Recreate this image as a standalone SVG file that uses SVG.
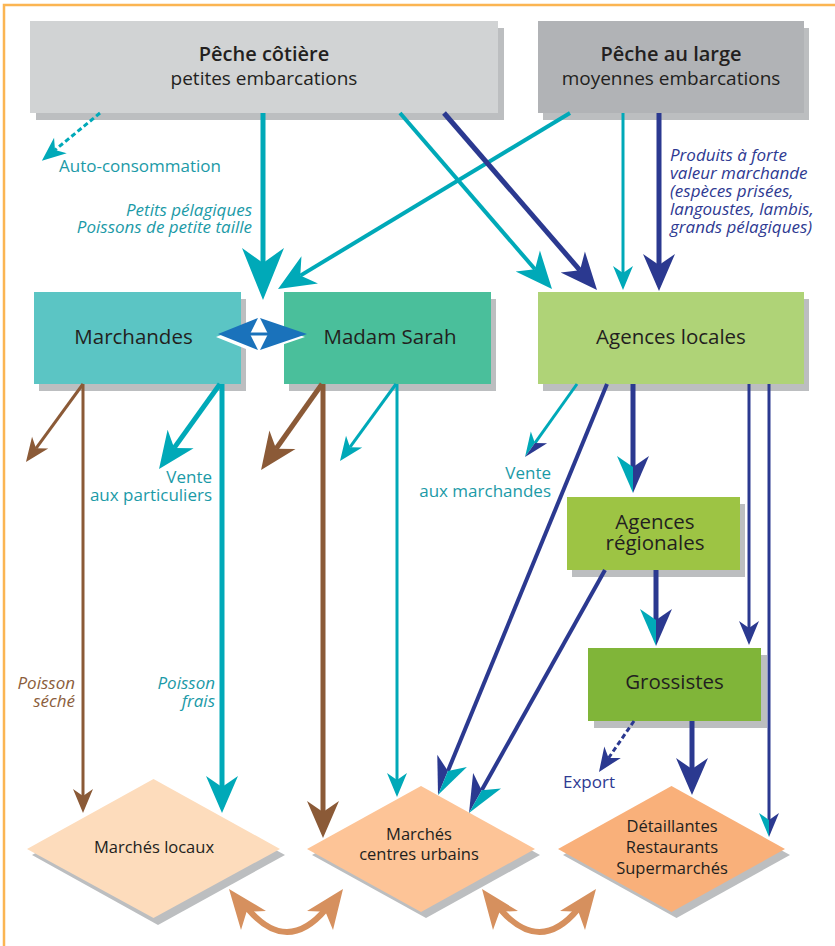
<svg xmlns="http://www.w3.org/2000/svg" width="835" height="946" viewBox="0 0 835 946">
<style>
.t{font-family:"Open Sans","Liberation Sans",sans-serif;fill:#231f20}
.h{font-size:20px;font-weight:600;text-anchor:middle}
.s{font-size:19px;text-anchor:middle}
.n{font-size:20.5px;text-anchor:middle}
.d{font-size:16.5px;text-anchor:middle}
.l{font-family:"Open Sans","Liberation Sans",sans-serif;font-size:17px}
.it{font-style:italic}
.end{text-anchor:end}
.tc{fill:#1b9aa7}.bc{fill:#2e3a92}.brc{fill:#8b5e3c}
.sh{fill:#bcbec0}
.ln{fill:none}
.teal{stroke:#00a9b8}.blue{stroke:#2b3990}.brown{stroke:#8b5a37}
</style>
<defs>
<marker id="tB" markerUnits="userSpaceOnUse" orient="auto" viewBox="-20 -25 60 50" markerWidth="60" markerHeight="50" refX="0" refY="0"><path d="M37,0 L-15,21 L0,0 L-15,-21 Z" fill="#00a9b8"/></marker>
<marker id="tL" markerUnits="userSpaceOnUse" orient="auto" viewBox="-20 -25 60 50" markerWidth="60" markerHeight="50" refX="0" refY="0"><path d="M26,0 L-11,16 L0,0 L-11,-16 Z" fill="#00a9b8"/></marker>
<marker id="bL" markerUnits="userSpaceOnUse" orient="auto" viewBox="-20 -25 60 50" markerWidth="60" markerHeight="50" refX="0" refY="0"><path d="M26,0 L-11,16 L0,0 L-11,-16 Z" fill="#2b3990"/></marker>
<marker id="brL" markerUnits="userSpaceOnUse" orient="auto" viewBox="-20 -25 60 50" markerWidth="60" markerHeight="50" refX="0" refY="0"><path d="M26,0 L-11,16 L0,0 L-11,-16 Z" fill="#8b5a37"/></marker>
<marker id="tS" markerUnits="userSpaceOnUse" orient="auto" viewBox="-20 -25 60 50" markerWidth="60" markerHeight="50" refX="0" refY="0"><path d="M17,0 L-7,10 L0,0 L-7,-10 Z" fill="#00a9b8"/></marker>
<marker id="bS" markerUnits="userSpaceOnUse" orient="auto" viewBox="-20 -25 60 50" markerWidth="60" markerHeight="50" refX="0" refY="0"><path d="M17,0 L-7,10 L0,0 L-7,-10 Z" fill="#2b3990"/></marker>
<marker id="brS" markerUnits="userSpaceOnUse" orient="auto" viewBox="-20 -25 60 50" markerWidth="60" markerHeight="50" refX="0" refY="0"><path d="M17,0 L-7,10 L0,0 L-7,-10 Z" fill="#8b5a37"/></marker>
<marker id="tbL" markerUnits="userSpaceOnUse" orient="auto" viewBox="-20 -25 60 50" markerWidth="60" markerHeight="50" refX="0" refY="0"><path d="M26,0 L-11,16 L0,0 Z" fill="#00a9b8"/><path d="M26,0 L-11,-16 L0,0 Z" fill="#2b3990"/></marker>
<marker id="btL" markerUnits="userSpaceOnUse" orient="auto" viewBox="-20 -25 60 50" markerWidth="60" markerHeight="50" refX="0" refY="0"><path d="M26,0 L-11,16 L0,0 Z" fill="#2b3990"/><path d="M26,0 L-11,-16 L0,0 Z" fill="#00a9b8"/></marker>
<marker id="tbS" markerUnits="userSpaceOnUse" orient="auto" viewBox="-20 -25 60 50" markerWidth="60" markerHeight="50" refX="0" refY="0"><path d="M17,0 L-7,10 L0,0 Z" fill="#00a9b8"/><path d="M17,0 L-7,-10 L0,0 Z" fill="#2b3990"/></marker>
</defs>
<rect width="835" height="946" fill="#ffffff"/>
<path d="M4,946 V5 H835" fill="none" stroke="#fbb552" stroke-width="2.5"/>

<g id="peche-cotiere">
<rect class="sh" x="36" y="28" width="468" height="92"/>
<rect x="30" y="21" width="468" height="92" fill="#d1d3d4"/>
<text class="t h" x="264" y="61">Pêche côtière</text>
<text class="t s" x="264" y="85">petites embarcations</text>
</g>
<g id="peche-au-large">
<rect class="sh" x="543" y="28" width="266" height="92"/>
<rect x="538" y="21" width="266" height="92" fill="#b1b3b6"/>
<text class="t h" x="671" y="61">Pêche au large</text>
<text class="t s" x="671" y="85">moyennes embarcations</text>
</g>
<g id="marchandes">
<rect class="sh" x="39" y="299" width="207" height="92"/>
<rect x="34" y="292" width="207" height="92" fill="#5bc5c4"/>
<text class="t n" x="133.5" y="344">Marchandes</text>
</g>
<g id="madam-sarah">
<rect class="sh" x="289" y="299" width="207" height="92"/>
<rect x="284" y="292" width="207" height="92" fill="#4abf9b"/>
<text class="t n" x="390" y="344">Madam Sarah</text>
</g>
<g id="agences-locales">
<rect class="sh" x="543" y="299" width="266" height="92"/>
<rect x="538" y="292" width="266" height="92" fill="#afd377"/>
<text class="t n" x="671" y="344">Agences locales</text>
</g>
<g id="agences-regionales">
<rect class="sh" x="572" y="504" width="173" height="73"/>
<rect x="567" y="497" width="173" height="73" fill="#9dc444"/>
<text class="t n" x="655" y="529">Agences</text>
<text class="t n" x="655" y="550">régionales</text>
</g>
<g id="grossistes">
<rect class="sh" x="594" y="655" width="173" height="73"/>
<rect x="588" y="648" width="173" height="73" fill="#80b539"/>
<text class="t n" x="674.5" y="689">Grossistes</text>
</g>
<g id="marches-locaux">
<path class="sh" d="M158,785 L285,855 L158,925 L32,855 Z"/>
<path d="M153.5,779 L280,849 L153.5,918 L27,849 Z" fill="#fddcbc"/>
<text class="t d" x="154" y="853">Marchés locaux</text>
</g>
<g id="marches-centres-urbains">
<path class="sh" d="M426,792 L540,855 L426,918 L312,855 Z"/>
<path d="M421,786 L535,849 L421,912 L307,849 Z" fill="#fdc497"/>
<text class="t d" x="419" y="840">Marchés</text>
<text class="t d" x="419" y="860">centres urbains</text>
</g>
<g id="detaillantes">
<path class="sh" d="M676.5,792 L790,855 L676.5,918 L563,855 Z"/>
<path d="M671.5,786 L785,849 L671.5,912 L558,849 Z" fill="#f9b07a"/>
<text class="t d" x="672" y="832">Détaillantes</text>
<text class="t d" x="672" y="853">Restaurants</text>
<text class="t d" x="672" y="874">Supermarchés</text>
</g>

<g id="connectors">
<path class="ln teal" stroke-width="3" stroke-dasharray="5 3" d="M100,113 L55,150" marker-end="url(#tS)"/>
<path class="ln teal" stroke-width="5" d="M263,113 L263,263" marker-end="url(#tB)"/>
<path class="ln teal" stroke-width="4" d="M570,113 L300.3,275.6" marker-end="url(#tL)"/>
<path class="ln teal" stroke-width="4" d="M400,113 L535,269.3" marker-end="url(#tL)"/>
<path class="ln blue" stroke-width="5" d="M444,113 L580,270.3" marker-end="url(#bL)"/>
<path class="ln teal" stroke-width="3" d="M623,113 L623,273" marker-end="url(#tS)"/>
<path class="ln blue" stroke-width="5" d="M659,113 L659,265" marker-end="url(#bL)"/>

<path class="ln brown" stroke-width="3" d="M83,384 L36,448.3" marker-end="url(#brS)"/>
<path class="ln brown" stroke-width="3" d="M83,384 L83,796" marker-end="url(#brS)"/>
<path class="ln teal" stroke-width="5" d="M220,384 L174.2,447.9" marker-end="url(#tL)"/>
<path class="ln teal" stroke-width="5" d="M222,384 L222,787" marker-end="url(#tL)"/>
<path class="ln brown" stroke-width="5" d="M322,384 L276.1,448.8" marker-end="url(#brL)"/>
<path class="ln brown" stroke-width="5" d="M323,384 L323,812" marker-end="url(#brL)"/>
<path class="ln teal" stroke-width="3" d="M396,384 L350,447.2" marker-end="url(#tS)"/>
<path class="ln teal" stroke-width="3" d="M397,384 L397,780" marker-end="url(#tS)"/>

<path class="ln teal" stroke-width="3" d="M577,384 L534.9,443.1" marker-end="url(#tbS)"/>
<path class="ln blue" stroke-width="4" d="M607,384 L447.9,771" marker-end="url(#btL)"/>
<path class="ln blue" stroke-width="4" d="M605,570 L481.7,790.3" marker-end="url(#btL)"/>
<path class="ln blue" stroke-width="5" d="M633,384 L633,467" marker-end="url(#tbL)"/>
<path class="ln blue" stroke-width="5" d="M656,570 L656,620" marker-end="url(#tbL)"/>
<path class="ln blue" stroke-width="3" d="M749,384 L749,628" marker-end="url(#bS)"/>
<path class="ln blue" stroke-width="3" d="M769,384 L769,820" marker-end="url(#tbS)"/>
<path class="ln blue" stroke-width="3" stroke-dasharray="5 3" d="M634,721 L608.6,758" marker-end="url(#bS)"/>
<path class="ln blue" stroke-width="5" d="M692,721 L692,769" marker-end="url(#bL)"/>

<g id="double-blue">
<g fill="#ffffff" transform="translate(-2,3)">
<path d="M218,334 L258,318 L250,334 L258,350 Z"/>
<path d="M307,334 L260,318 L268,334 L260,350 Z"/>
</g>
<path d="M250,334 H268" stroke="#1a72bb" stroke-width="3"/>
<path d="M218,334 L258,318 L250,334 L258,350 Z" fill="#1a72bb"/>
<path d="M307,334 L260,318 L268,334 L260,350 Z" fill="#1a72bb"/>
</g>

<g fill="#d6905e">
<path d="M248,909 Q287,955 326,909" fill="none" stroke="#d6905e" stroke-width="6"/>
<path d="M229,889 L241,930 L246.6,911.7 L266,911 Z"/>
<path d="M343,889 L333,930 L325.4,911.7 L307,911 Z"/>
<path d="M500,909 Q540,955 578,909" fill="none" stroke="#d6905e" stroke-width="6"/>
<path d="M482,889 L493,930 L499.6,911.7 L518,911 Z"/>
<path d="M596,889 L585,930 L578.4,911.7 L560,911 Z"/>
</g>
</g>

<g id="labels">
<text class="l tc" x="59" y="172">Auto-consommation</text>
<text class="l tc it end" x="252" y="216">Petits pélagiques</text>
<text class="l tc it end" x="252" y="233">Poissons de petite taille</text>
<text class="l bc it" x="670" y="161">Produits à forte</text>
<text class="l bc it" x="670" y="179">valeur marchande</text>
<text class="l bc it" x="670" y="197">(espèces prisées,</text>
<text class="l bc it" x="670" y="215">langoustes, lambis,</text>
<text class="l bc it" x="670" y="233">grands pélagiques)</text>
<text class="l tc end" x="212" y="483">Vente</text>
<text class="l tc end" x="212" y="501">aux particuliers</text>
<text class="l tc end" x="551" y="479">Vente</text>
<text class="l tc end" x="551" y="497">aux marchandes</text>
<text class="l brc it end" x="75" y="689">Poisson</text>
<text class="l brc it end" x="75" y="707">séché</text>
<text class="l tc it end" x="215" y="689">Poisson</text>
<text class="l tc it end" x="215" y="707">frais</text>
<text class="l bc" x="563" y="788">Export</text>
</g>
</svg>
